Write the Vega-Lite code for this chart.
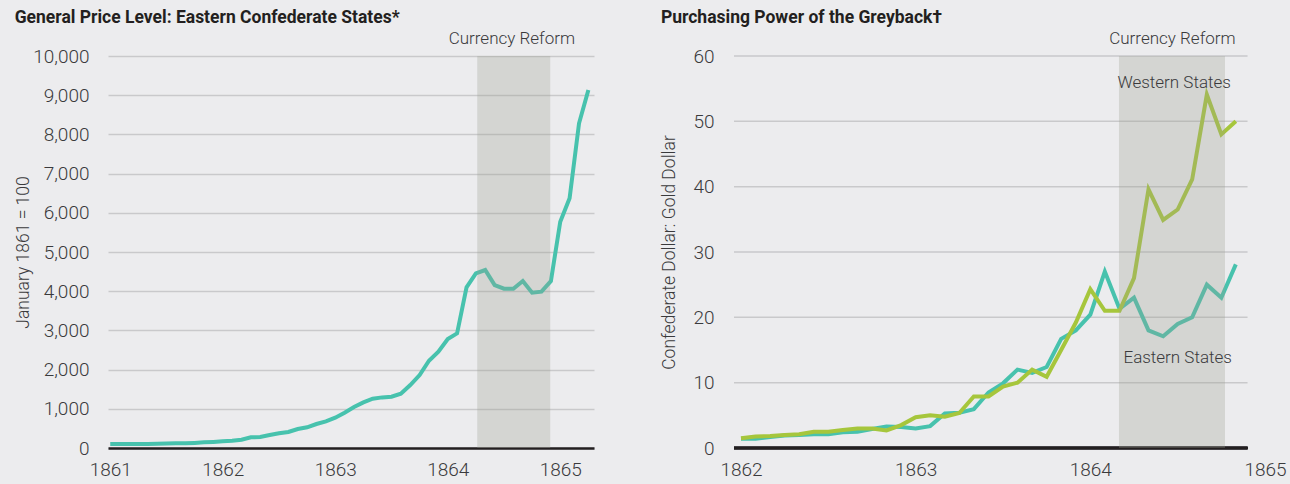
{
  "$schema": "https://vega.github.io/schema/vega-lite/v6.json",
  "background": "#ececee",
  "padding": {"left": 14, "top": 8, "right": 5, "bottom": 7},
  "spacing": 63,
  "config": {
    "view": {"stroke": null},
    "font": "Roboto",
    "axis": {
      "labelFont": "Roboto",
      "labelFontSize": 19,
      "labelFontWeight": 300,
      "labelColor": "#3a3a3c",
      "labelFlush": false,
      "titleFont": "Roboto",
      "titleFontSize": 17.5,
      "titleFontWeight": 300,
      "titleColor": "#3a3a3c",
      "ticks": false
    },
    "title": {"font": "Roboto", "fontSize": 17.5, "fontWeight": "bold", "color": "#231f20", "anchor": "start", "frame": "bounds", "offset": 4}
  },
  "datasets": {
    "price": [
      {"t": 1861.000, "v": 100}, {"t": 1861.083, "v": 100}, {"t": 1861.167, "v": 100}, {"t": 1861.250, "v": 105},
      {"t": 1861.333, "v": 105}, {"t": 1861.417, "v": 108}, {"t": 1861.500, "v": 112}, {"t": 1861.583, "v": 118},
      {"t": 1861.667, "v": 120}, {"t": 1861.750, "v": 130}, {"t": 1861.833, "v": 145}, {"t": 1861.917, "v": 155},
      {"t": 1862.000, "v": 170}, {"t": 1862.083, "v": 187}, {"t": 1862.167, "v": 212}, {"t": 1862.250, "v": 272},
      {"t": 1862.333, "v": 280}, {"t": 1862.417, "v": 330}, {"t": 1862.500, "v": 374}, {"t": 1862.583, "v": 408},
      {"t": 1862.667, "v": 484}, {"t": 1862.750, "v": 527}, {"t": 1862.833, "v": 612}, {"t": 1862.917, "v": 680},
      {"t": 1863.000, "v": 773}, {"t": 1863.083, "v": 900}, {"t": 1863.167, "v": 1045}, {"t": 1863.250, "v": 1164},
      {"t": 1863.333, "v": 1257}, {"t": 1863.417, "v": 1291}, {"t": 1863.500, "v": 1308}, {"t": 1863.583, "v": 1384},
      {"t": 1863.667, "v": 1607}, {"t": 1863.750, "v": 1862}, {"t": 1863.833, "v": 2227}, {"t": 1863.917, "v": 2457},
      {"t": 1864.000, "v": 2781}, {"t": 1864.083, "v": 2925}, {"t": 1864.167, "v": 4099}, {"t": 1864.250, "v": 4456},
      {"t": 1864.333, "v": 4541}, {"t": 1864.417, "v": 4158}, {"t": 1864.500, "v": 4064}, {"t": 1864.583, "v": 4064},
      {"t": 1864.667, "v": 4260}, {"t": 1864.750, "v": 3962}, {"t": 1864.833, "v": 3988}, {"t": 1864.917, "v": 4260},
      {"t": 1865.000, "v": 5773}, {"t": 1865.083, "v": 6369}, {"t": 1865.167, "v": 8283}, {"t": 1865.250, "v": 9133}
    ],
    "power": [
      {"t": 1862.000, "series": "Eastern States", "v": 1.4},
      {"t": 1862.083, "series": "Eastern States", "v": 1.4},
      {"t": 1862.167, "series": "Eastern States", "v": 1.7},
      {"t": 1862.250, "series": "Eastern States", "v": 1.9},
      {"t": 1862.333, "series": "Eastern States", "v": 2.0},
      {"t": 1862.417, "series": "Eastern States", "v": 2.1},
      {"t": 1862.500, "series": "Eastern States", "v": 2.1},
      {"t": 1862.583, "series": "Eastern States", "v": 2.4},
      {"t": 1862.667, "series": "Eastern States", "v": 2.5},
      {"t": 1862.750, "series": "Eastern States", "v": 2.9},
      {"t": 1862.833, "series": "Eastern States", "v": 3.3},
      {"t": 1862.917, "series": "Eastern States", "v": 3.2},
      {"t": 1863.000, "series": "Eastern States", "v": 3.0},
      {"t": 1863.083, "series": "Eastern States", "v": 3.35},
      {"t": 1863.167, "series": "Eastern States", "v": 5.3},
      {"t": 1863.250, "series": "Eastern States", "v": 5.4},
      {"t": 1863.333, "series": "Eastern States", "v": 5.95},
      {"t": 1863.417, "series": "Eastern States", "v": 8.5},
      {"t": 1863.500, "series": "Eastern States", "v": 9.9},
      {"t": 1863.583, "series": "Eastern States", "v": 12.0},
      {"t": 1863.667, "series": "Eastern States", "v": 11.5},
      {"t": 1863.750, "series": "Eastern States", "v": 12.4},
      {"t": 1863.833, "series": "Eastern States", "v": 16.7},
      {"t": 1863.917, "series": "Eastern States", "v": 18.0},
      {"t": 1864.000, "series": "Eastern States", "v": 20.4},
      {"t": 1864.083, "series": "Eastern States", "v": 27.0},
      {"t": 1864.167, "series": "Eastern States", "v": 21.3},
      {"t": 1864.250, "series": "Eastern States", "v": 23.0},
      {"t": 1864.333, "series": "Eastern States", "v": 18.0},
      {"t": 1864.417, "series": "Eastern States", "v": 17.1},
      {"t": 1864.500, "series": "Eastern States", "v": 19.0},
      {"t": 1864.583, "series": "Eastern States", "v": 20.0},
      {"t": 1864.667, "series": "Eastern States", "v": 25.0},
      {"t": 1864.750, "series": "Eastern States", "v": 23.0},
      {"t": 1864.833, "series": "Eastern States", "v": 28.1},
      {"t": 1862.000, "series": "Western States", "v": 1.5},
      {"t": 1862.083, "series": "Western States", "v": 1.75},
      {"t": 1862.167, "series": "Western States", "v": 1.85},
      {"t": 1862.250, "series": "Western States", "v": 2.0},
      {"t": 1862.333, "series": "Western States", "v": 2.1},
      {"t": 1862.417, "series": "Western States", "v": 2.5},
      {"t": 1862.500, "series": "Western States", "v": 2.5},
      {"t": 1862.583, "series": "Western States", "v": 2.75},
      {"t": 1862.667, "series": "Western States", "v": 3.0},
      {"t": 1862.750, "series": "Western States", "v": 3.0},
      {"t": 1862.833, "series": "Western States", "v": 2.7},
      {"t": 1862.917, "series": "Western States", "v": 3.5},
      {"t": 1863.000, "series": "Western States", "v": 4.7},
      {"t": 1863.083, "series": "Western States", "v": 5.0},
      {"t": 1863.167, "series": "Western States", "v": 4.8},
      {"t": 1863.250, "series": "Western States", "v": 5.35},
      {"t": 1863.333, "series": "Western States", "v": 7.9},
      {"t": 1863.417, "series": "Western States", "v": 7.9},
      {"t": 1863.500, "series": "Western States", "v": 9.4},
      {"t": 1863.583, "series": "Western States", "v": 10.0},
      {"t": 1863.667, "series": "Western States", "v": 12.0},
      {"t": 1863.750, "series": "Western States", "v": 10.9},
      {"t": 1863.833, "series": "Western States", "v": 15.0},
      {"t": 1863.917, "series": "Western States", "v": 19.2},
      {"t": 1864.000, "series": "Western States", "v": 24.3},
      {"t": 1864.083, "series": "Western States", "v": 21.0},
      {"t": 1864.167, "series": "Western States", "v": 21.0},
      {"t": 1864.250, "series": "Western States", "v": 26.0},
      {"t": 1864.333, "series": "Western States", "v": 39.6},
      {"t": 1864.417, "series": "Western States", "v": 34.9},
      {"t": 1864.500, "series": "Western States", "v": 36.5},
      {"t": 1864.583, "series": "Western States", "v": 41.1},
      {"t": 1864.667, "series": "Western States", "v": 54.1},
      {"t": 1864.750, "series": "Western States", "v": 48.0},
      {"t": 1864.833, "series": "Western States", "v": 50.0}
    ],
    "shadeL": [{"start": 1864.262, "end": 1864.911}],
    "shadeR": [{"start": 1864.164, "end": 1864.771}],
    "notesL": [{"t": 1864.57, "v": 10000, "label": "Currency Reform"}],
    "notesR": [
      {"t": 1864.47, "v": 60, "label": "Currency Reform", "kind": "top"},
      {"t": 1864.48, "v": 55.8, "label": "Western States", "kind": "in"},
      {"t": 1864.5, "v": 13.8, "label": "Eastern States", "kind": "in"}
    ],
    "gridR": [{"v": 10}, {"v": 20}, {"v": 30}, {"v": 40}, {"v": 50}, {"v": 60}]
  },
  "hconcat": [
    {
      "width": 486,
      "height": 392,
      "title": {"text": "General Price Level: Eastern Confederate States*"},
      "resolve": {"axis": {"x": "independent", "y": "independent"}},
      "layer": [
        {
          "data": {"name": "price"},
          "mark": {"type": "line", "color": "#47c2ad", "strokeWidth": 4},
          "encoding": {
            "x": {
              "field": "t", "type": "quantitative",
              "scale": {"domain": [1860.98, 1865.3], "nice": false, "zero": false},
              "axis": {"values": [1861, 1862, 1863, 1864, 1865], "format": "d", "title": null, "grid": false, "domain": true, "domainColor": "#231f20", "domainWidth": 2.5, "labelPadding": 12}
            },
            "y": {
              "field": "v", "type": "quantitative",
              "scale": {"domain": [0, 10000], "nice": false},
              "axis": {"values": [0, 1000, 2000, 3000, 4000, 5000, 6000, 7000, 8000, 9000, 10000], "format": ",.0f", "title": "January 1861 = 100", "grid": true, "gridColor": "#c9c9cb", "gridWidth": 1.5, "domain": false, "labelPadding": 19, "titlePadding": 0}
            }
          }
        },
        {
          "data": {"name": "shadeL"},
          "mark": {"type": "rect", "color": "#9c9f91", "opacity": 0.3},
          "encoding": {
            "x": {"field": "start", "type": "quantitative", "axis": null},
            "x2": {"field": "end"},
            "y": {"datum": 0, "type": "quantitative", "axis": null},
            "y2": {"datum": 10000}
          }
        },
        {
          "data": {"name": "notesL"},
          "mark": {"type": "text", "fontSize": 17, "fontWeight": 300, "color": "#3a3a3c", "dy": -17, "baseline": "middle"},
          "encoding": {
            "x": {"field": "t", "type": "quantitative", "axis": null},
            "y": {"field": "v", "type": "quantitative", "axis": null},
            "text": {"field": "label"}
          }
        }
      ]
    },
    {
      "width": 531,
      "height": 392,
      "title": {"text": "Purchasing Power of the Greyback†"},
      "resolve": {"axis": {"x": "independent", "y": "independent"}},
      "layer": [
        {
          "data": {"name": "gridR"},
          "mark": {"type": "rule", "color": "#c9c9cb", "strokeWidth": 1.5},
          "encoding": {
            "y": {"field": "v", "type": "quantitative", "axis": null},
            "x": {"datum": 1861.96, "type": "quantitative", "axis": null},
            "x2": {"datum": 1864.9}
          }
        },
        {
          "data": {"name": "gridR"},
          "mark": {"type": "rule", "color": "#231f20", "strokeWidth": 2.5},
          "encoding": {
            "y": {"datum": 0, "type": "quantitative", "axis": null},
            "x": {"datum": 1861.96, "type": "quantitative", "axis": null},
            "x2": {"datum": 1864.9}
          }
        },
        {
          "data": {"name": "power"},
          "mark": {"type": "line", "strokeWidth": 4},
          "encoding": {
            "x": {
              "field": "t", "type": "quantitative",
              "scale": {"domain": [1861.96, 1865], "nice": false, "zero": false},
              "axis": {"values": [1862, 1863, 1864, 1865], "format": "d", "title": null, "grid": false, "domain": false, "labelPadding": 12}
            },
            "y": {
              "field": "v", "type": "quantitative",
              "scale": {"domain": [0, 60], "nice": false},
              "axis": {"values": [0, 10, 20, 30, 40, 50, 60], "title": "Confederate Dollar: Gold Dollar", "grid": false, "domain": false, "labelPadding": 20, "titlePadding": 14}
            },
            "color": {
              "field": "series", "type": "nominal",
              "scale": {"domain": ["Eastern States", "Western States"], "range": ["#47c2ad", "#a6c63c"]},
              "legend": null
            }
          }
        },
        {
          "data": {"name": "shadeR"},
          "mark": {"type": "rect", "color": "#9c9f91", "opacity": 0.3},
          "encoding": {
            "x": {"field": "start", "type": "quantitative", "axis": null},
            "x2": {"field": "end"},
            "y": {"datum": 0, "type": "quantitative", "axis": null},
            "y2": {"datum": 60}
          }
        },
        {
          "data": {"name": "notesR"},
          "transform": [{"filter": "datum.kind == 'top'"}],
          "mark": {"type": "text", "fontSize": 17, "fontWeight": 300, "color": "#3a3a3c", "dy": -17, "baseline": "middle"},
          "encoding": {
            "x": {"field": "t", "type": "quantitative", "axis": null},
            "y": {"field": "v", "type": "quantitative", "axis": null},
            "text": {"field": "label"}
          }
        },
        {
          "data": {"name": "notesR"},
          "transform": [{"filter": "datum.kind == 'in'"}],
          "mark": {"type": "text", "fontSize": 17, "fontWeight": 300, "color": "#3a3a3c", "baseline": "middle"},
          "encoding": {
            "x": {"field": "t", "type": "quantitative", "axis": null},
            "y": {"field": "v", "type": "quantitative", "axis": null},
            "text": {"field": "label"}
          }
        }
      ]
    }
  ]
}
